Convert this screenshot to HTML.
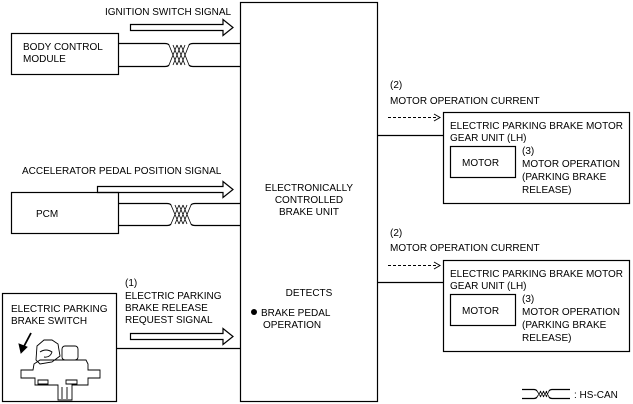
<!DOCTYPE html>
<html><head><meta charset="utf-8"><style>
html,body{margin:0;padding:0;background:#fff;}
svg{display:block;}
text{font-family:"Liberation Sans",Arial,sans-serif;font-size:10px;fill:#000;}
</style></head><body>
<svg width="633" height="404" viewBox="0 0 633 404" xmlns="http://www.w3.org/2000/svg">
<g fill="none" stroke="#000" stroke-width="1.2">
<!-- ECU -->
<rect x="240.5" y="2.5" width="137" height="399"/>
<!-- BCM -->
<rect x="11.5" y="33.5" width="107" height="41"/>
<path d="M118 43.5H165Q168 43.5 169 45M118 66.5H165Q168 66.5 169 65M189 45Q190 43.5 193 43.5H240M189 65Q190 66.5 193 66.5H240"/>
<path d="M169 45L177 65M177 45L169 65M173 45L181 65M181 45L173 65M177 45L185 65M185 45L177 65M181 45L189 65M189 45L181 65" stroke-width="0.8"/>
<path d="M130.5 24.5H223V19.5L233 27.5L223 35.5V30.5H130.5Z"/>
<!-- PCM -->
<rect x="11.5" y="192.5" width="107" height="41"/>
<path d="M118 203.5H167Q170 203.5 171 205M118 225.5H167Q170 225.5 171 224M191 205Q192 203.5 195 203.5H240M191 224Q192 225.5 195 225.5H240"/>
<path d="M171 205L179 224M179 205L171 224M175 205L183 224M183 205L175 224M179 205L187 224M187 205L179 224M183 205L191 224M191 205L183 224" stroke-width="0.8"/>
<path d="M97.5 186.5H223V181.5L233 189.5L223 197.5V192.5H97.5Z"/>
<!-- EPB switch -->
<rect x="2.5" y="293.5" width="114" height="108"/>
<path d="M116 348.5H240"/>
<path d="M130.5 333.5H223V328.5L233 336.5L223 344.5V339.5H130.5Z"/>
<!-- right units -->
<path d="M377 135.5H443M377 282.5H443"/>
<rect x="443.5" y="112.5" width="186" height="91"/>
<rect x="450.5" y="146.5" width="65" height="31"/>
<rect x="443.5" y="260.5" width="186" height="91"/>
<rect x="450.5" y="294.5" width="65" height="31"/>
<path d="M388 117.5H436" stroke-dasharray="3,2" stroke-width="1"/>
<path d="M434 114L440 117.5L434 121" stroke-width="1"/>
<path d="M388 265.5H436" stroke-dasharray="3,2" stroke-width="1"/>
<path d="M434 262L440 265.5L434 269" stroke-width="1"/>
<!-- legend -->
<path d="M522 389.5H534Q536 389.5 537 391M522 398.5H534Q536 398.5 537 397M549 391Q550 389.5 552 389.5H570M549 397Q550 398.5 552 398.5H570"/>
<path d="M537 391L541 397M541 391L537 397M540 391L544 397M544 391L540 397M543 391L547 397M547 391L543 397M546 391L549 397M549 391L546 397" stroke-width="0.8"/>
<!-- switch drawing -->
<g stroke-width="0.9">
<path d="M31 333L22 350" stroke-width="1.8"/>
<path d="M19 344L21 353L27 347Z" fill="#000"/>
<rect x="62" y="346" width="16" height="14" rx="3"/>
<path d="M37 346L44 340L52 340L58 344L60 356L52 362L40 364L36 360Z"/>
<path d="M40 352Q46 348 52 352Q50 358 44 357"/>
<path d="M34 364L40 360L86 360L88 364L88 370L100 370L100 378L88 378L88 385L72 385L72 400L58 400L58 385L35 385L35 378L21 378L21 370L33 370Z"/>
<path d="M38 380H48V384H38ZM66 380H77V384H66Z"/>
<path d="M62 387V399M67 387V399"/>
</g>
</g>
<circle cx="254" cy="312" r="3" fill="#000"/>
<g>
<text x="105" y="15">IGNITION SWITCH SIGNAL</text>
<text x="23" y="50">BODY CONTROL</text>
<text x="23" y="62">MODULE</text>
<text x="22" y="174">ACCELERATOR PEDAL POSITION SIGNAL</text>
<text x="36" y="217">PCM</text>
<text x="125" y="286">(1)</text>
<text x="125" y="299">ELECTRIC PARKING</text>
<text x="125" y="311">BRAKE RELEASE</text>
<text x="125" y="323">REQUEST SIGNAL</text>
<text x="11" y="312">ELECTRIC PARKING</text>
<text x="11" y="324">BRAKE SWITCH</text>
<text x="309" y="191" text-anchor="middle">ELECTRONICALLY</text>
<text x="309" y="203" text-anchor="middle">CONTROLLED</text>
<text x="309" y="215" text-anchor="middle">BRAKE UNIT</text>
<text x="309" y="296" text-anchor="middle">DETECTS</text>
<text x="261" y="316">BRAKE PEDAL</text>
<text x="263" y="328">OPERATION</text>
<text x="390" y="88">(2)</text>
<text x="390" y="104">MOTOR OPERATION CURRENT</text>
<text x="450" y="129">ELECTRIC PARKING BRAKE MOTOR</text>
<text x="450" y="141">GEAR UNIT (LH)</text>
<text x="462" y="166">MOTOR</text>
<text x="522" y="154">(3)</text>
<text x="522" y="167">MOTOR OPERATION</text>
<text x="522" y="180">(PARKING BRAKE</text>
<text x="522" y="193">RELEASE)</text>
<text x="390" y="236">(2)</text>
<text x="390" y="251">MOTOR OPERATION CURRENT</text>
<text x="450" y="277">ELECTRIC PARKING BRAKE MOTOR</text>
<text x="450" y="289">GEAR UNIT (LH)</text>
<text x="462" y="314">MOTOR</text>
<text x="522" y="302">(3)</text>
<text x="522" y="315">MOTOR OPERATION</text>
<text x="522" y="328">(PARKING BRAKE</text>
<text x="522" y="341">RELEASE)</text>
<text x="574" y="398">: HS-CAN</text>
</g>
</svg>
</body></html>
